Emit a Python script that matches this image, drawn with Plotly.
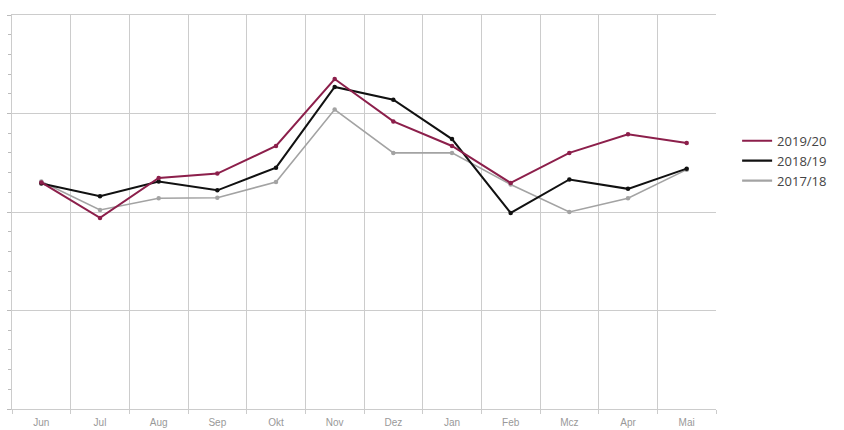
import plotly.graph_objects as go

months = ["Jun", "Jul", "Aug", "Sep", "Okt", "Nov", "Dez", "Jan", "Feb", "Mcz", "Apr", "Mai"]
s2019 = [3.0, -0.6, 3.45, 3.9, 6.7, 13.5, 9.2, 6.7, 2.95, 6.0, 7.9, 7.0]
s2018 = [2.9, 1.6, 3.1, 2.2, 4.5, 12.7, 11.4, 7.4, -0.1, 3.3, 2.35, 4.4]
s2017 = [3.1, 0.2, 1.4, 1.45, 3.05, 10.4, 6.0, 6.0, 2.8, 0.0, 1.4, 4.3]

names = ["2019/20", "2018/19", "2017/18"]
colors = ["#8c1f4b", "#111111", "#a3a3a3"]
widths = [2, 2, 1.6]
series = [s2019, s2018, s2017]

fig = go.Figure()
# data traces, gray at bottom, red on top
for i in [2, 1, 0]:
    fig.add_trace(go.Scatter(
        x=months, y=series[i], name=names[i], mode="lines+markers",
        line=dict(color=colors[i], width=widths[i]),
        marker=dict(color=colors[i], size=4.5),
        showlegend=False,
    ))
# legend-only line entries
for i in [0, 1, 2]:
    fig.add_trace(go.Scatter(
        x=[None], y=[None], name=names[i], mode="lines",
        line=dict(color=colors[i], width=2.2),
        showlegend=True,
    ))

fig.update_layout(
    width=844, height=430,
    margin=dict(l=12, r=128, t=15, b=21, autoexpand=False),
    paper_bgcolor="white", plot_bgcolor="white",
    font=dict(family="Open Sans, sans-serif", color="#555"),
    showlegend=True,
    legend=dict(
        x=1.03, y=0.63, xanchor="left", yanchor="middle",
        font=dict(size=13, color="#444", family="Open Sans, sans-serif"),
        bgcolor="rgba(0,0,0,0)", itemwidth=30, tracegroupgap=0,
    ),
)
fig.update_xaxes(
    type="category", tickson="boundaries", range=[-0.5, 11.5],
    showgrid=True, gridcolor="#cccccc", gridwidth=1,
    ticks="outside", ticklen=4, tickcolor="#cccccc",
    showline=True, linecolor="#cccccc", mirror=True,
    tickfont=dict(size=10, color="#999", family="Liberation Sans, Arial, sans-serif"),
    ticklabelstandoff=4,
    zeroline=False, fixedrange=True, automargin=False,
)
fig.update_yaxes(
    range=[-20, 20], dtick=10, tick0=0,
    showgrid=True, gridcolor="#cccccc", gridwidth=1,
    ticks="outside", ticklen=4, tickcolor="#bbbbbb",
    minor=dict(dtick=2, ticks="outside", ticklen=3, tickcolor="#bbbbbb", showgrid=False),
    showticklabels=False,
    showline=True, linecolor="#cccccc",
    zeroline=False, fixedrange=True, automargin=False,
)

fig.write_html("out.html")
